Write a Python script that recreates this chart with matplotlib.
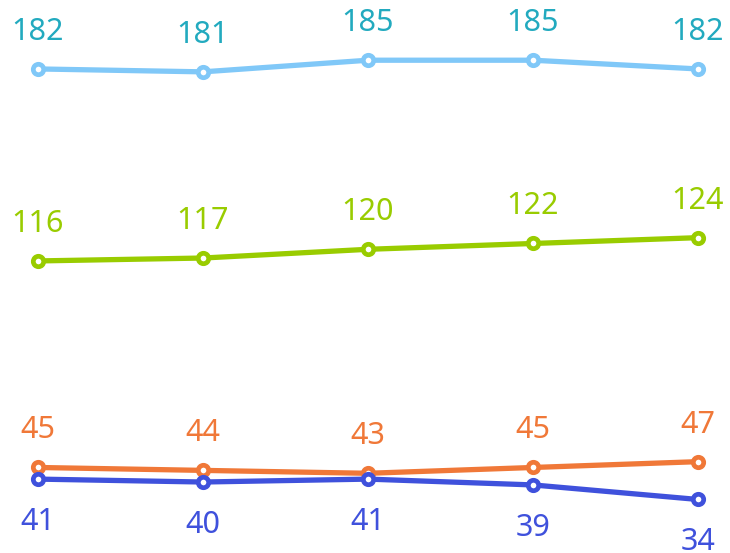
import matplotlib
matplotlib.use('Agg')
import matplotlib.pyplot as plt

points = [0, 1, 2, 3, 4]
sky = [182, 181, 185, 185, 182]
lime = [116, 117, 120, 122, 124]
orange = [45, 44, 43, 45, 47]
blue = [41, 40, 41, 39, 34]

# (values, line colour, label colour, label above?)
series = [
    (sky, '#80c8f8', '#22aabf', True),
    (lime, '#99cc00', '#99cc00', True),
    (orange, '#f07838', '#f07838', True),
    (blue, '#3f51dc', '#3f51dc', False),
]

plt.rcParams['font.family'] = ['Noto Sans', 'DejaVu Sans']

fig = plt.figure(figsize=(7.3, 5.53), dpi=100)
ax = fig.add_axes([0, 0, 1, 1])
ax.set_axis_off()
ax.set_xlim(-0.2303, 4.194)
ax.set_ylim(15.6, 205.7)

px = 72 / 100  # points per pixel
for vals, lc, tc, above in series:
    ax.plot(points, vals, color=lc, lw=3.8, marker='o', ms=7.5, mew=3.4,
            mfc='white', mec=lc, solid_capstyle='round', zorder=3)
    for x, v in zip(points, vals):
        dy = 37 * px if above else -43 * px
        ax.annotate(str(v), (x, v), xytext=(0, dy), textcoords='offset points',
                    ha='center', va='center', fontsize=22, color=tc)

fig.savefig('out.png', dpi=100)
